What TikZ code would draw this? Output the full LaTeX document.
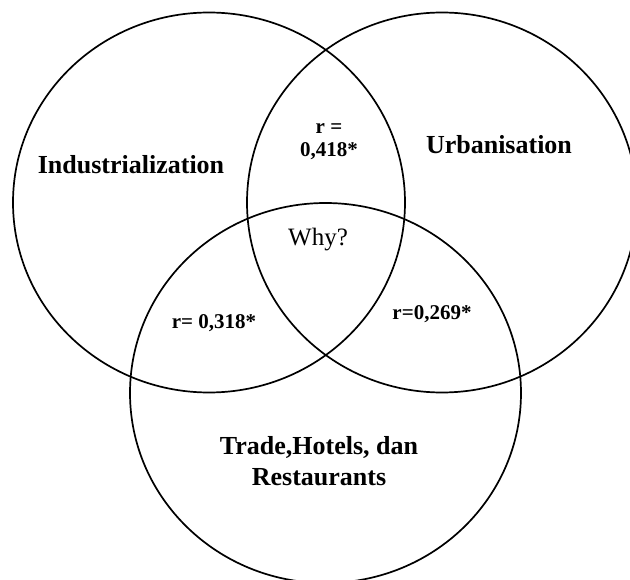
\documentclass[tikz,border=0pt]{standalone}
\usepackage{fontspec}
\setmainfont{Liberation Serif}
\begin{document}
\begin{tikzpicture}[x=1pt,y=-1pt,
  ring/.style={draw=black,line width=1.7pt},
  bigl/.style={font=\fontsize{26}{31}\selectfont\bfseries,align=center,inner sep=0pt},
  smalll/.style={font=\fontsize{21}{23}\selectfont\bfseries,align=center,inner sep=0pt},
  plainl/.style={font=\fontsize{25}{28}\selectfont,inner sep=0pt}]
\useasboundingbox (0,0) rectangle (630,580);
\begin{scope}
\clip (0,0) rectangle (630,580);
\draw[ring] (209,202.5) ellipse [x radius=196pt, y radius=190pt];
\draw[ring] (442,202.5) ellipse [x radius=195pt, y radius=190pt];
\draw[ring] (325.5,393) ellipse [x radius=195.5pt, y radius=190pt];
\end{scope}
\node[bigl] (ind) at (131,165) {Industrialization};
\node[bigl] (urb) at (499,145) {Urbanisation};
\node[bigl] (trd) at (319,461) {Trade,Hotels, dan\\Restaurants};
\node[smalll] (r1) at (329,142) {r =\\0,418*};
\node[smalll] (r2) at (214,323) {r= 0,318*};
\node[smalll] (r3) at (432,314) {r=0,269*};
\node[plainl] (why) at (318,240) {Why?};
\end{tikzpicture}
\end{document}
